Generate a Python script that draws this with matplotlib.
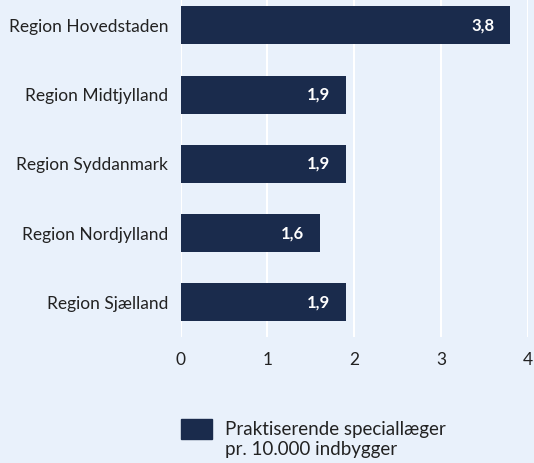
import matplotlib.pyplot as plt
from matplotlib.patches import Rectangle

plt.rcParams['font.family'] = ['Lato', 'DejaVu Sans']

# data
regions = ["Region Hovedstaden", "Region Midtjylland", "Region Syddanmark",
           "Region Nordjylland", "Region Sjælland"]
values = [3.8, 1.9, 1.9, 1.6, 1.9]
value_labels = ["3,8", "1,9", "1,9", "1,6", "1,9"]
legend_label = "Praktiserende speciallæger\npr. 10.000 indbygger"

bg = "#e9f1fb"
bar_color = "#1a2b4c"
W, H = 534, 463

fig = plt.figure(figsize=(W / 100, H / 100), dpi=100, facecolor=bg)
ax = fig.add_axes([180.7 / W, 1 - 337 / H, 347 / W, 337 / H])
ax.set_facecolor(bg)

pos = list(range(len(regions)))
ax.barh(pos, values, height=0.55, color=bar_color, zorder=3)
for p, v, lab in zip(pos, values, value_labels):
    ax.text(v - 0.18, p, lab, color="white", fontsize=12, fontweight="bold",
            ha="right", va="center", zorder=4)

ax.set_xlim(0, 4)
ax.set_ylim(4.5, -0.366)
ax.set_xticks([0, 1, 2, 3, 4])
ax.set_yticks(pos)
ax.set_yticklabels(regions, fontsize=12.5, color="#222222")
ax.tick_params(axis="x", labelsize=12.5, colors="#222222", length=0, pad=11)
ax.tick_params(axis="y", length=0, pad=9)
ax.grid(axis="x", color="white", linewidth=1.5, zorder=1)
for s in ax.spines.values():
    s.set_visible(False)

# legend
fig.patches.append(Rectangle((181 / W, 1 - 438.5 / H), 30.5 / W, 19.5 / H,
                             transform=fig.transFigure, color=bar_color))
fig.text(225 / W, 1 - 421 / H, legend_label, fontsize=13.5, color="#222222",
         ha="left", va="top", linespacing=1.2)

fig.savefig("out.png", dpi=100, facecolor=bg)
